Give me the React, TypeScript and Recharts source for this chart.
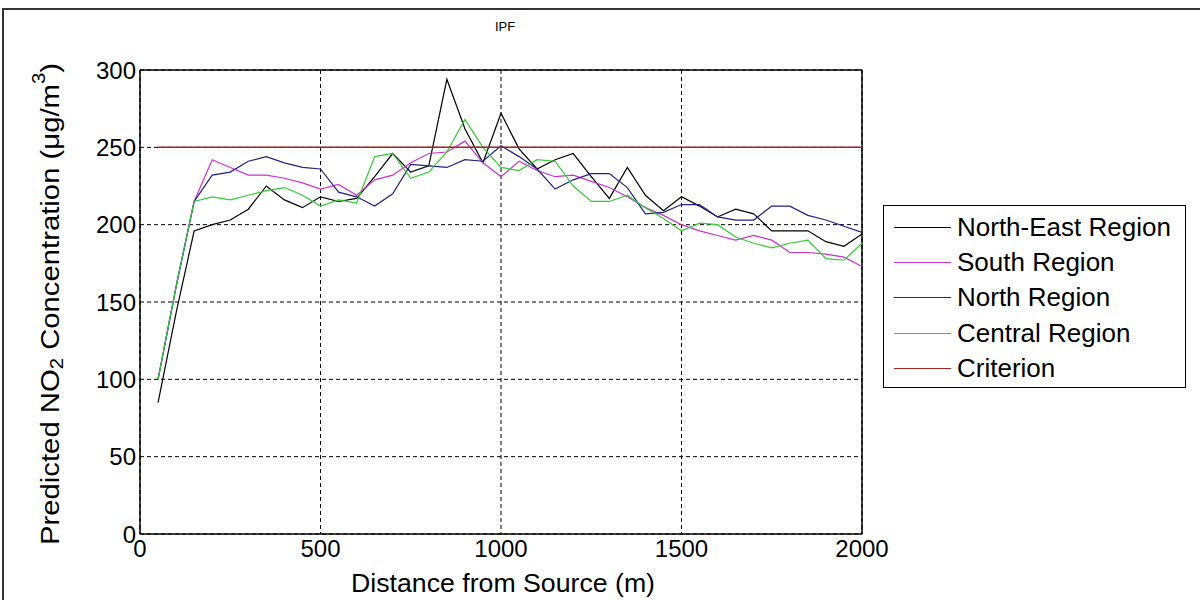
import React from 'react';
import { LineChart, Line, XAxis, YAxis, CartesianGrid, Legend, ReferenceLine } from 'recharts';

const distances = [50, 100, 150, 200, 250, 300, 350, 400, 450, 500, 550, 600, 650, 700, 750, 800, 850, 900, 950, 1000,
  1050, 1100, 1150, 1200, 1250, 1300, 1350, 1400, 1450, 1500, 1550, 1600, 1650, 1700, 1750, 1800, 1850, 1900, 1950, 2000];

const northEast = [85, 143, 196, 200, 203, 210, 225, 216, 211, 218, 215, 217, 231, 246, 234, 238, 294, 262, 240, 272,
  249, 236, 242, 246, 231, 217, 237, 219, 209, 218, 212, 205, 210, 207, 196, 196, 196, 189, 186, 194];

const south = [100, 160, 215, 242, 237, 232, 232, 230, 227, 223, 226, 219, 229, 232, 240, 246, 247, 254, 240, 231,
  241, 235, 231, 232, 228, 224, 218, 211, 206, 200, 196, 193, 190, 193, 190, 182, 182, 181, 179, 173];

const north = [100, 160, 215, 232, 234, 241, 244, 240, 237, 236, 221, 218, 212, 220, 239, 238, 237, 242, 241, 251,
  244, 236, 223, 229, 233, 233, 224, 207, 208, 213, 213, 205, 203, 203, 212, 212, 206, 203, 199, 195];

const central = [100, 160, 215, 218, 216, 219, 222, 224, 219, 212, 216, 214, 244, 246, 230, 234, 247, 268, 250, 237,
  235, 242, 241, 225, 215, 215, 219, 211, 204, 196, 201, 200, 192, 188, 185, 188, 190, 178, 177, 188];

const CRITERION = 250;

const xTicks = [0, 500, 1000, 1500, 2000];
const yTicks = [0, 50, 100, 150, 200, 250, 300];

const series = [
  { key: 'ne', name: 'North-East Region', color: '#000000' },
  { key: 's', name: 'South Region', color: '#cc33cc' },
  { key: 'n', name: 'North Region', color: '#22228a' },
  { key: 'c', name: 'Central Region', color: '#33cc33' },
  { key: 'crit', name: 'Criterion', color: '#a82424' },
];

const data = distances.map((d, i) => ({
  d,
  ne: northEast[i],
  s: south[i],
  n: north[i],
  c: central[i],
  crit: CRITERION,
}));

const FONT = '"Liberation Sans", Arial, sans-serif';

const renderXLabel = (props: any) => {
  const vb = props.viewBox || {};
  return (
    <text x={vb.x + vb.width / 2 + 2} y={vb.y + 58} textAnchor="middle" fontSize={26} fontFamily={FONT} fill="#000"
      textLength={304} lengthAdjust="spacingAndGlyphs">
      Distance from Source (m)
    </text>
  );
};

const renderYLabel = (props: any) => {
  const vb = props.viewBox || {};
  const cx = vb.x + 50;
  const cy = vb.y + vb.height / 2 + 2;
  return (
    <text x={cx} y={cy} transform={`rotate(-90 ${cx} ${cy})`} textAnchor="middle" dominantBaseline="central" fontSize={26} fontFamily={FONT} fill="#000"
      textLength={482} lengthAdjust="spacingAndGlyphs">
      Predicted NO
      <tspan fontSize={18} dy={7}>2</tspan>
      <tspan dy={-7}> Concentration (μg/m</tspan>
      <tspan fontSize={18} dy={-11}>3</tspan>
      <tspan dy={11}>)</tspan>
    </text>
  );
};

const renderLegend = () => (
  <div
    style={{
      border: '1px solid #000',
      background: '#fff',
      width: 303,
      height: 183,
      boxSizing: 'border-box',
      paddingTop: 4,
      fontFamily: FONT,
    }}
  >
    {series.map((s) => (
      <div key={s.key} style={{ display: 'flex', alignItems: 'center', height: 35.2 }}>
        <div style={{ width: 57, height: 0, borderTop: `1.5px solid ${s.color}`, marginLeft: 10, marginRight: 6 }} />
        <span style={{ fontSize: 26, color: '#000', whiteSpace: 'nowrap' }}>{s.name}</span>
      </div>
    ))}
  </div>
);

export default function App() {
  return (
    <div style={{ position: 'absolute', left: 0, top: 0, width: 1200, height: 600, overflow: 'hidden', background: '#fff' }}>
      <div style={{ position: 'absolute', left: 2, top: 8, width: 1210, height: 620, border: '2px solid #333', boxSizing: 'border-box' }} />
      <div style={{ position: 'absolute', left: 445, top: 19, width: 120, textAlign: 'center', fontFamily: FONT, fontSize: 13, color: '#000' }}>
        IPF
      </div>
      <div style={{ position: 'absolute', left: 0, top: 0 }}>
        <LineChart width={1200} height={600} data={data} margin={{ top: 70, right: 338, bottom: 0, left: 0 }}>
          <CartesianGrid stroke="#000" strokeDasharray="4 3" strokeWidth={1} />
          <XAxis
            dataKey="d"
            type="number"
            domain={[0, 2000]}
            ticks={xTicks}
            height={66}
            tickSize={0}
            tickMargin={6}
            tickLine={false}
            axisLine={{ stroke: '#000', strokeWidth: 1.5 }}
            tick={{ fontSize: 24, fill: '#000', fontFamily: FONT }}
            label={{ content: renderXLabel }}
          />
          <YAxis
            type="number"
            domain={[0, 300]}
            ticks={yTicks}
            width={140}
            tickSize={0}
            tickMargin={4}
            tickLine={false}
            axisLine={{ stroke: '#000', strokeWidth: 1.5 }}
            tick={{ fontSize: 24, fill: '#000', fontFamily: FONT }}
            label={{ content: renderYLabel }}
          />
          <ReferenceLine y={300} stroke="#000" strokeWidth={1.5} />
          <ReferenceLine x={2000} stroke="#000" strokeWidth={1.5} />
          {series.map((s) => (
            <Line
              key={s.key}
              type="linear"
              dataKey={s.key}
              name={s.name}
              stroke={s.color}
              strokeWidth={s.key === 'crit' ? 1.5 : 1.2}
              dot={false}
              activeDot={false}
              isAnimationActive={false}
            />
          ))}
          <Legend
            layout="vertical"
            align="center"
            verticalAlign="middle"
            content={renderLegend}
            wrapperStyle={{ position: 'absolute', left: 883, top: 205, width: 303, height: 183 }}
          />
        </LineChart>
      </div>
    </div>
  );
}
